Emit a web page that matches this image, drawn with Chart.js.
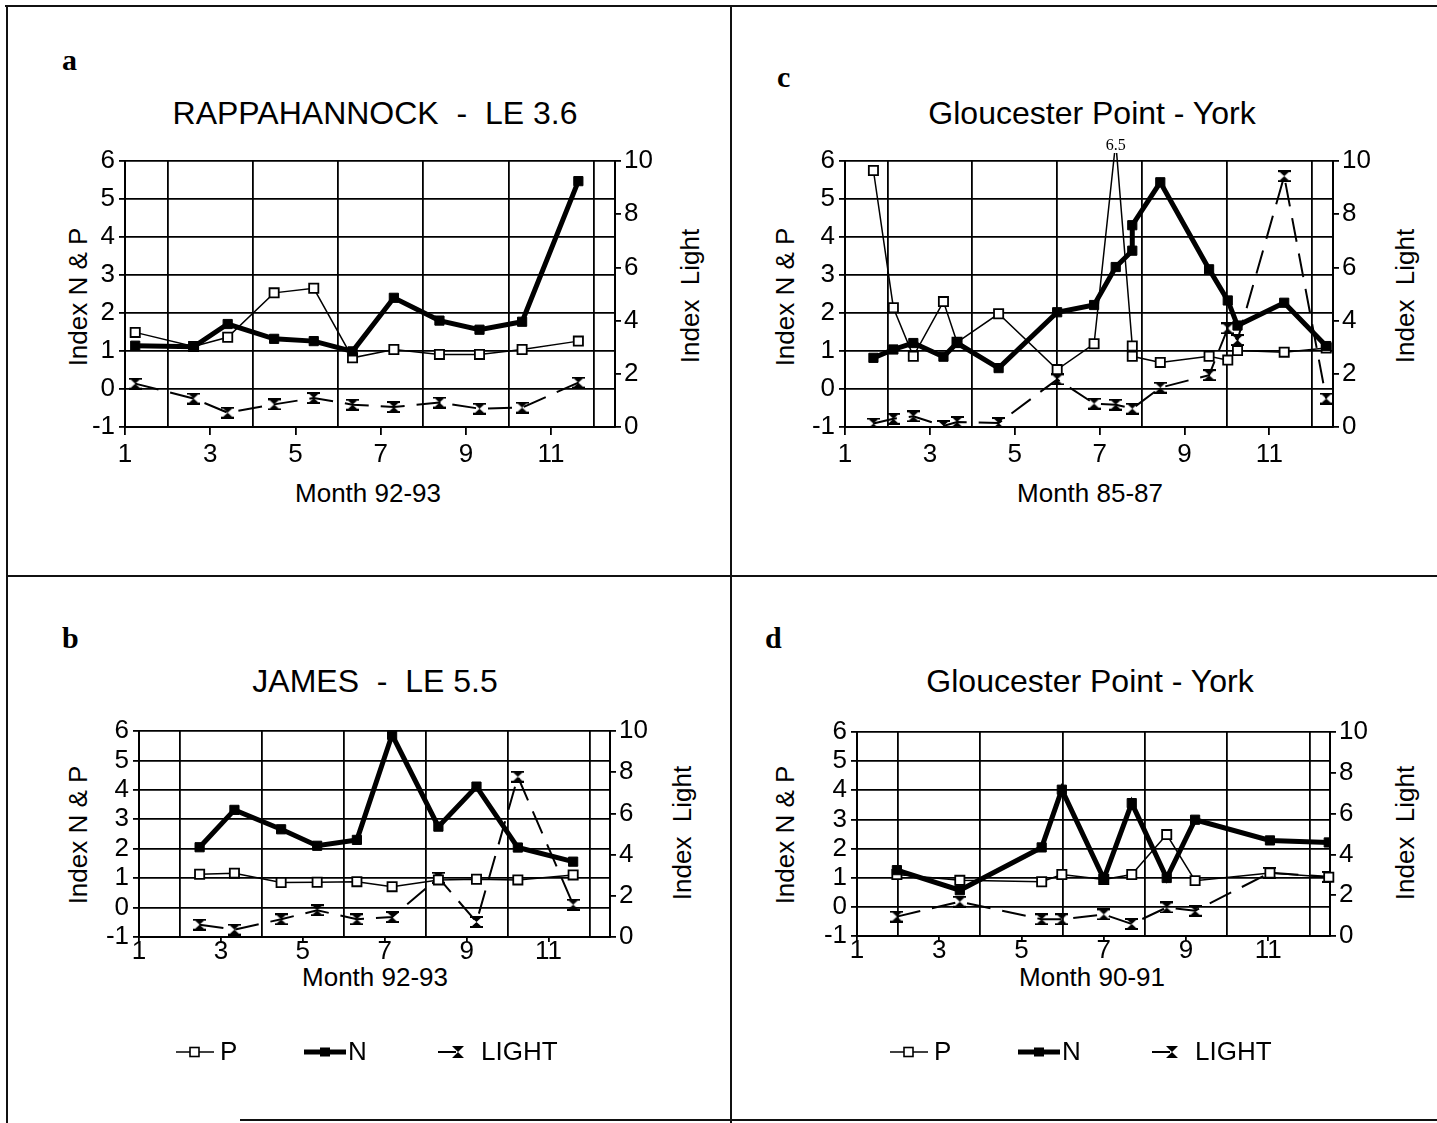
<!DOCTYPE html>
<html>
<head>
<meta charset="utf-8">
<script src="https://cdn.jsdelivr.net/npm/chart.js@4"></script>
<style>
    body { margin: 0; background: #fff; }
    #page { position: relative; width: 1437px; height: 1123px; overflow: hidden; font-family: "Liberation Sans", Arial, sans-serif; color: #000; }
    canvas { position: absolute; }
    .line { position: absolute; background: #111; }
    .letter { position: absolute; font: bold 30px "Liberation Serif", serif; line-height: 30px; }
    .title { position: absolute; font-size: 32px; line-height: 32px; white-space: pre; transform: translateX(-50%); }
    .axtitle { position: absolute; font-size: 26px; white-space: pre; transform: translate(-50%, -50%); }
    .ytitle { position: absolute; font-size: 26px; white-space: pre; transform: translate(-50%, -50%) rotate(-90deg); }
    .leg { position: absolute; font-size: 26px; line-height: 26px; }
    .legsvg { position: absolute; }
</style>
</head>
<body>
<div id="page">
    <!-- panel frames -->
    <div class="line" style="left:5px; top:5px; width:1432px; height:2px;"></div>
    <div class="line" style="left:6px; top:5px; width:2px; height:1118px;"></div>
    <div class="line" style="left:730px; top:5px; width:2px; height:1118px;"></div>
    <div class="line" style="left:6px; top:575px; width:1431px; height:2px;"></div>
    <div class="line" style="left:240px; top:1119px; width:1197px; height:2px;"></div>

    <div class="letter" style="left:62px; top:45px;">a</div>
    <div class="letter" style="left:777px; top:62px;">c</div>
    <div class="letter" style="left:62px; top:623px;">b</div>
    <div class="letter" style="left:765px; top:623px;">d</div>

    <div class="title" style="left:375px; top:97px;">RAPPAHANNOCK  -  LE 3.6</div>
    <div class="title" style="left:1092px; top:97px;">Gloucester Point - York</div>
    <div class="title" style="left:375px; top:665px;">JAMES  -  LE 5.5</div>
    <div class="title" style="left:1090px; top:665px;">Gloucester Point - York</div>

    <div class="ytitle" style="left:78px; top:297px;">Index N &amp; P</div>
    <div class="ytitle" style="left:690px; top:296px;">Index  Light</div>
    <div class="ytitle" style="left:785px; top:297px;">Index N &amp; P</div>
    <div class="ytitle" style="left:1405px; top:296px;">Index  Light</div>
    <div class="ytitle" style="left:78px; top:835px;">Index N &amp; P</div>
    <div class="ytitle" style="left:682px; top:833px;">Index  Light</div>
    <div class="ytitle" style="left:785px; top:835px;">Index N &amp; P</div>
    <div class="ytitle" style="left:1405px; top:833px;">Index  Light</div>

    <div class="axtitle" style="left:368px; top:493px;">Month 92-93</div>
    <div class="axtitle" style="left:1090px; top:493px;">Month 85-87</div>
    <div class="axtitle" style="left:375px; top:977px;">Month 92-93</div>
    <div class="axtitle" style="left:1092px; top:977px;">Month 90-91</div>

    <canvas id="chartA" width="730" height="577" style="left:0px; top:0px;"></canvas>
    <canvas id="chartC" width="707" height="577" style="left:730px; top:0px;"></canvas>
    <canvas id="chartB" width="730" height="546" style="left:0px; top:577px;"></canvas>
    <canvas id="chartD" width="707" height="546" style="left:730px; top:577px;"></canvas>

    <!-- legends (b and d) -->
    <div id="legendB"></div>
    <div id="legendD"></div>
</div>

<script>
// ---- data (month position, index values) ----

// a: Rappahannock LE 3.6, months 92-93
const monthsA = [1.24, 2.61, 3.41, 4.5, 5.43, 6.34, 7.31, 8.38, 9.32, 10.32, 11.64];
const pA = [1.49, 1.12, 1.36, 2.53, 2.65, 0.82, 1.04, 0.91, 0.91, 1.04, 1.26];
const nA = [1.14, 1.11, 1.71, 1.32, 1.26, 0.99, 2.40, 1.80, 1.56, 1.77, 5.47];
const lightA = [1.63, 1.07, 0.54, 0.85, 1.09, 0.84, 0.75, 0.92, 0.69, 0.73, 1.67];

// c: Gloucester Point - York, months 85-87
const monthsC = [1.67, 2.14, 2.61, 3.32, 3.64, 4.62, 6.0, 6.87, 7.38, 7.77, 7.77, 8.43, 9.58, 10.02, 10.25, 11.35, 12.34];
const pC = [5.75, 2.14, 0.86, 2.30, 1.23, 1.98, 0.51, 1.19, 6.5, 1.13, 0.86, 0.70, 0.86, 0.76, 1.01, 0.97, 1.08];
const nC = [0.82, 1.04, 1.21, 0.85, 1.21, 0.55, 2.02, 2.21, 3.21, 3.64, 4.31, 5.44, 3.15, 2.33, 1.67, 2.27, 1.13];
const lightC = [0.13, 0.31, 0.40, 0.04, 0.19, 0.15, 1.79, 0.88, 0.84, 0.69, null, 1.48, 1.95, 3.71, 3.27, 9.43, 1.07];

// b: James LE 5.5, months 92-93
const monthsB = [2.48, 3.33, 4.47, 5.35, 6.32, 7.18, 8.31, 9.24, 10.25, 11.6];
const pB = [1.13, 1.17, 0.85, 0.86, 0.88, 0.71, 0.94, 0.96, 0.94, 1.11];
const nB = [2.05, 3.32, 2.66, 2.10, 2.30, 5.87, 2.75, 4.11, 2.04, 1.56];
const lightB = [0.60, 0.36, 0.86, 1.30, 0.86, 0.97, 2.88, 0.73, 7.78, 1.57];

// d: Gloucester Point - York, months 90-91
const monthsD = [1.97, 3.5, 5.49, 5.98, 7.0, 7.68, 8.53, 9.22, 11.04, 12.47];
const pD = [1.11, 0.91, 0.86, 1.11, 0.94, 1.11, 2.48, 0.90, 1.16, 1.02];
const nD = [1.26, 0.57, 2.04, 4.02, 0.96, 3.56, 0.99, 2.99, 2.28, 2.21];
const lightD = [0.95, 1.68, 0.82, 0.82, 1.06, 0.59, 1.40, 1.24, 3.10, 2.90];

// axis ranges
const monthRange = [1, 12.5];
const npRange = [-1, 6];
const lightRange = [0, 10];
const seriesNames = ['P', 'N', 'LIGHT'];

Chart.defaults.font.family = '"Liberation Sans", Arial, sans-serif';
Chart.defaults.color = '#000';

// hourglass marker used for LIGHT
function makeHourglass() {
    const c = document.createElement('canvas');
    c.width = 13;
    c.height = 12;
    const g = c.getContext('2d');
    g.fillStyle = '#000';
    g.beginPath();
    g.moveTo(1, 1); g.lineTo(12, 1); g.lineTo(6.5, 6); g.closePath();
    g.moveTo(1, 11); g.lineTo(12, 11); g.lineTo(6.5, 6); g.closePath();
    g.fill();
    g.fillRect(0, 0, 13, 2);
    g.fillRect(0, 10, 13, 2);
    return c;
}
const hourglass = makeHourglass();

function toPoints(xs, ys) {
    return xs.map((x, i) => ({ x: x, y: ys[i] }));
}

// draws the off-scale value (6.5) above the plot
const peakLabel = {
    id: 'peakLabel',
    afterDatasetsDraw(chart) {
        const meta = chart.getDatasetMeta(1);
        const ds = chart.data.datasets[1];
        const top = chart.scales.y.max;
        const ctx = chart.ctx;
        ds.data.forEach((p, i) => {
            if (p.y > top) {
                const el = meta.data[i];
                ctx.save();
                ctx.fillStyle = '#fff';
                ctx.fillRect(el.x - 13, el.y - 4, 26, 15);
                ctx.fillStyle = '#000';
                ctx.font = '16px "Liberation Serif", serif';
                ctx.textAlign = 'center';
                ctx.textBaseline = 'middle';
                ctx.fillText(String(p.y), el.x, el.y + 4);
                ctx.restore();
            }
        });
    }
};

function makeDatasets(months, p, n, light) {
    return [
        {
            label: seriesNames[1],
            data: toPoints(months, n),
            yAxisID: 'y',
            borderColor: '#000',
            borderWidth: 5,
            pointStyle: 'rect',
            pointRadius: 6.5,
            pointBackgroundColor: '#000',
            pointBorderColor: '#000',
            pointBorderWidth: 1
        },
        {
            label: seriesNames[0],
            data: toPoints(months, p),
            yAxisID: 'y',
            clip: false,
            borderColor: '#000',
            borderWidth: 1.5,
            pointStyle: 'rect',
            pointRadius: ctx => (ctx.raw && ctx.raw.y > npRange[1]) ? 0 : 6.5,
            pointBackgroundColor: '#fff',
            pointBorderColor: '#000',
            pointBorderWidth: 1.8
        },
        {
            label: seriesNames[2],
            data: toPoints(months, light),
            yAxisID: 'y2',
            spanGaps: true,
            borderColor: '#000',
            borderWidth: 2,
            borderDash: [24, 12],
            pointStyle: hourglass,
            pointRadius: 6
        }
    ];
}

// box = chart area inside the canvas; xTick = [tick mark length, label padding]
function makeOptions(box, w, h, xTick) {
    const yW = 70, y2W = 60, xH = 45;
    const tickFont = { size: 26 };
    return {
        responsive: false,
        animation: false,
        events: [],
        layout: {
            padding: { left: box.left - yW, right: w - box.right - y2W, top: box.top, bottom: h - box.bottom - xH }
        },
        plugins: { legend: { display: false }, tooltip: { enabled: false } },
        scales: {
            x: {
                type: 'linear',
                min: monthRange[0],
                max: monthRange[1],
                afterFit: s => { s.height = xH; },
                ticks: {
                    stepSize: 1,
                    includeBounds: false,
                    autoSkip: false,
                    maxRotation: 0,
                    padding: xTick[1],
                    font: tickFont,
                    callback: v => (v % 2 === 1 ? String(v) : '')
                },
                grid: {
                    color: c => (c.tick && c.tick.value % 2 === 0) ? '#000' : 'rgba(0,0,0,0)',
                    tickColor: c => (c.tick && c.tick.value % 2 === 1) ? '#000' : 'rgba(0,0,0,0)',
                    lineWidth: 1.8,
                    tickLength: xTick[0]
                },
                border: { color: '#000', width: 2 }
            },
            y: {
                position: 'left',
                min: npRange[0],
                max: npRange[1],
                afterFit: s => { s.width = yW; },
                ticks: { stepSize: 1, padding: 4, autoSkip: false, font: tickFont },
                grid: { color: '#000', lineWidth: 1.8, tickLength: 6 },
                border: { color: '#000', width: 2 }
            },
            y2: {
                position: 'right',
                min: lightRange[0],
                max: lightRange[1],
                afterFit: s => { s.width = y2W; },
                ticks: { stepSize: 2, padding: 3, autoSkip: false, font: tickFont },
                grid: { drawOnChartArea: false, color: '#000', lineWidth: 1.8, tickLength: 6 },
                border: { color: '#000', width: 2 }
            }
        }
    };
}

function buildPanel(id, box, xTick, months, p, n, light, extra) {
    const canvas = document.getElementById(id);
    new Chart(canvas.getContext('2d'), {
        type: 'line',
        data: { datasets: makeDatasets(months, p, n, light) },
        options: makeOptions(box, canvas.width, canvas.height, xTick),
        plugins: extra || []
    });
}

buildPanel('chartA', { left: 125, right: 615, top: 161, bottom: 427 }, [8, 4], monthsA, pA, nA, lightA);
buildPanel('chartC', { left: 115, right: 603, top: 161, bottom: 427 }, [8, 4], monthsC, pC, nC, lightC, [peakLabel]);
buildPanel('chartB', { left: 139, right: 610, top: 154, bottom: 360 }, [5, -6], monthsB, pB, nB, lightB);
buildPanel('chartD', { left: 127, right: 600, top: 155, bottom: 359 }, [5, -6], monthsD, pD, nD, lightD);

// legend rows under b and d
function legendSymbol(kind) {
    if (kind === 'P') {
        return '<svg width="38" height="14"><line x1="0" y1="7" x2="38" y2="7" stroke="#000" stroke-width="1.5"/>' +
            '<rect x="14" y="2.5" width="9" height="9" fill="#fff" stroke="#000" stroke-width="1.6"/></svg>';
    }
    if (kind === 'N') {
        return '<svg width="42" height="14"><line x1="0" y1="7" x2="42" y2="7" stroke="#000" stroke-width="5"/>' +
            '<rect x="16" y="2.5" width="10" height="9" fill="#000"/></svg>';
    }
    return '<svg width="28" height="14"><line x1="0" y1="7" x2="18" y2="7" stroke="#000" stroke-width="2"/>' +
        '<path d="M14 1 H26 L20 7 Z M14 13 H26 L20 7 Z" fill="#000"/></svg>';
}

function buildLegend(id, x0, y) {
    const holder = document.getElementById(id);
    const offsets = [[0, 44], [128, 172], [262, 305]];
    seriesNames.forEach((name, i) => {
        const s = document.createElement('div');
        s.className = 'legsvg';
        s.style.left = (x0 + offsets[i][0]) + 'px';
        s.style.top = (y - 7) + 'px';
        s.innerHTML = legendSymbol(name);
        holder.appendChild(s);
        const t = document.createElement('div');
        t.className = 'leg';
        t.style.left = (x0 + offsets[i][1]) + 'px';
        t.style.top = (y - 14) + 'px';
        t.textContent = name;
        holder.appendChild(t);
    });
}

buildLegend('legendB', 176, 1052);
buildLegend('legendD', 890, 1052);
</script>
</body>
</html>
